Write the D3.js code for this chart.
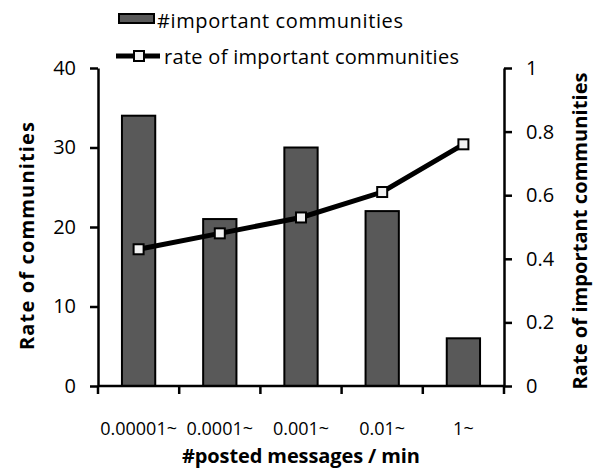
<!DOCTYPE html>
<html>
<head>
<meta charset="utf-8">
<script src="https://cdn.jsdelivr.net/npm/d3@7/dist/d3.min.js"></script>
<style>
  body { margin: 0; background: #fff; }
  text { font-family: "Open Sans", Lato, sans-serif; fill: #000; }
</style>
</head>
<body>
<div id="chart"></div>
<script>
var categories = ["0.00001~", "0.0001~", "0.001~", "0.01~", "1~"];
var importantCounts = [34, 21, 30, 22, 6];
var importantRates = [0.43, 0.48, 0.53, 0.61, 0.76];
var leftTicks = [0, 10, 20, 30, 40];
var rightTicks = [0, 0.2, 0.4, 0.6, 0.8, 1];

var W = 600, H = 471;
var mLeft = 98, mRight = 504, mTop = 68, mBottom = 386;

var svg = d3.select("#chart").append("svg")
    .attr("width", W)
    .attr("height", H);

var x = d3.scaleBand().domain(categories).range([mLeft, mRight]).padding(0);
var yL = d3.scaleLinear().domain([0, 40]).range([mBottom, mTop]);
var yR = d3.scaleLinear().domain([0, 1]).range([mBottom, mTop]);

// bars
var bw = x.bandwidth() * 0.41;
svg.selectAll("rect.bar")
    .data(importantCounts)
  .enter().append("rect")
    .attr("class", "bar")
    .attr("x", function(d, i) { return x(categories[i]) + x.bandwidth() / 2 - bw / 2; })
    .attr("width", bw)
    .attr("y", function(d) { return yL(d); })
    .attr("height", function(d) { return mBottom - yL(d); })
    .style("fill", "#595959")
    .style("stroke", "#000")
    .style("stroke-width", 2);

// x axis, ticks sit between categories
var gx = svg.append("g")
    .attr("transform", "translate(0," + mBottom + ")");
gx.append("line")
    .attr("x1", mLeft).attr("x2", mRight)
    .attr("stroke", "#000").attr("stroke-width", 2.5);
gx.selectAll("line.sep")
    .data(d3.range(categories.length + 1))
  .enter().append("line")
    .attr("class", "sep")
    .attr("x1", function(i) { return mLeft + i * x.step(); })
    .attr("x2", function(i) { return mLeft + i * x.step(); })
    .attr("y1", 0).attr("y2", 8)
    .attr("stroke", "#000").attr("stroke-width", 2.5);
gx.selectAll("text.cat")
    .data(categories)
  .enter().append("text")
    .attr("class", "cat")
    .attr("x", function(d) { return x(d) + x.bandwidth() / 2; })
    .attr("y", 49)
    .attr("text-anchor", "middle")
    .style("font-size", "18px")
    .text(function(d) { return d; });

var yAxisL = d3.axisLeft(yL).tickValues(leftTicks).tickSize(8).tickSizeOuter(0).tickPadding(14);
var gl = svg.append("g")
    .attr("transform", "translate(" + mLeft + ",0)")
    .call(yAxisL);
gl.select(".domain").attr("stroke-width", 2.5);
gl.selectAll(".tick line").attr("stroke-width", 2.5);
gl.attr("font-family", null).attr("font-size", null);
gl.selectAll(".tick text").style("font-size", "20px");

var yAxisR = d3.axisRight(yR).tickValues(rightTicks).tickSize(8).tickSizeOuter(0).tickPadding(14)
    .tickFormat(function(d) { return String(d); });
var gr = svg.append("g")
    .attr("transform", "translate(" + mRight + ",0)")
    .call(yAxisR);
gr.select(".domain").attr("stroke-width", 2.5);
gr.selectAll(".tick line").attr("stroke-width", 2.5);
gr.attr("font-family", null).attr("font-size", null);
gr.selectAll(".tick text").style("font-size", "20px");

// line
var line = d3.line()
    .x(function(d, i) { return x(categories[i]) + x.bandwidth() / 2; })
    .y(function(d) { return yR(d); });
svg.append("path")
    .datum(importantRates)
    .attr("d", line)
    .attr("fill", "none")
    .attr("stroke", "#000")
    .attr("stroke-width", 5);
svg.selectAll("rect.marker")
    .data(importantRates)
  .enter().append("rect")
    .attr("class", "marker")
    .attr("x", function(d, i) { return x(categories[i]) + x.bandwidth() / 2 - 5; })
    .attr("y", function(d) { return yR(d) - 5; })
    .attr("width", 10).attr("height", 10)
    .attr("fill", "#f2f2f2")
    .attr("stroke", "#000")
    .attr("stroke-width", 2);

// axis titles
svg.append("text")
    .attr("transform", "translate(34,236) rotate(-90)")
    .attr("text-anchor", "middle")
    .attr("textLength", 228).attr("lengthAdjust", "spacing")
    .style("font-size", "20px").style("font-weight", "bold")
    .text("Rate of communities");
svg.append("text")
    .attr("transform", "translate(587,231) rotate(-90)")
    .attr("text-anchor", "middle")
    .attr("textLength", 317).attr("lengthAdjust", "spacing")
    .style("font-size", "20px").style("font-weight", "bold")
    .text("Rate of important communities");
svg.append("text")
    .attr("x", 301).attr("y", 463)
    .attr("text-anchor", "middle")
    .attr("textLength", 238).attr("lengthAdjust", "spacing")
    .style("font-size", "20px").style("font-weight", "bold")
    .text("#posted messages / min");

// legend
var lg = svg.append("g");
lg.append("rect")
    .attr("x", 119).attr("y", 14).attr("width", 35).attr("height", 9)
    .attr("fill", "#595959").attr("stroke", "#000").attr("stroke-width", 2);
lg.append("text")
    .attr("x", 157).attr("y", 28)
    .attr("textLength", 246).attr("lengthAdjust", "spacing")
    .style("font-size", "20px")
    .text("#important communities");
lg.append("line")
    .attr("x1", 116).attr("x2", 160).attr("y1", 56).attr("y2", 56)
    .attr("stroke", "#000").attr("stroke-width", 5);
lg.append("rect")
    .attr("x", 134).attr("y", 51).attr("width", 10).attr("height", 10)
    .attr("fill", "#f2f2f2").attr("stroke", "#000").attr("stroke-width", 2);
lg.append("text")
    .attr("x", 164).attr("y", 64)
    .attr("textLength", 295).attr("lengthAdjust", "spacing")
    .style("font-size", "20px")
    .text("rate of important communities");
</script>
</body>
</html>
